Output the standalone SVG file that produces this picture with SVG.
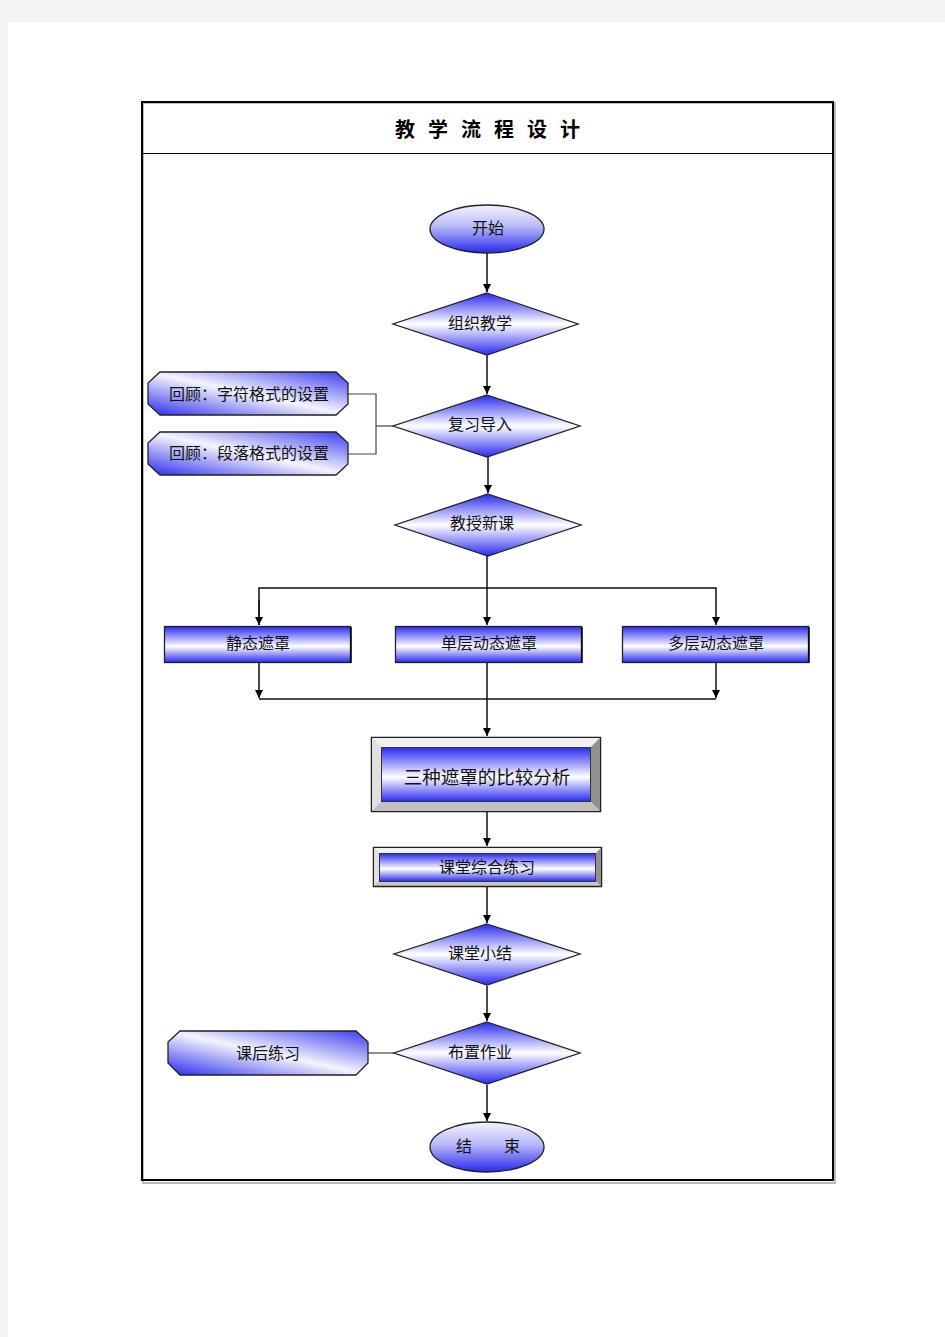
<svg xmlns="http://www.w3.org/2000/svg" width="945" height="1337" viewBox="0 0 945 1337">
<style>
.t{font-family:"Liberation Sans","Noto Sans CJK SC",sans-serif;font-size:16px;fill:#111;text-anchor:middle;dominant-baseline:central}
.sh{stroke:#222;stroke-width:1.3}
.ln{stroke:#111;stroke-width:1.5;fill:none}
.gl{stroke:#444;stroke-width:1.2;fill:none}
</style>
<defs>
<linearGradient id="gEll" x1="0" y1="0" x2="0" y2="1">
<stop offset="0" stop-color="#f4f4ff"/><stop offset="0.45" stop-color="#b8b8f8"/><stop offset="1" stop-color="#2828f0"/>
</linearGradient>
<linearGradient id="gDia" x1="0" y1="0" x2="0" y2="1">
<stop offset="0" stop-color="#2a2af0"/><stop offset="0.5" stop-color="#ffffff"/><stop offset="1" stop-color="#2a2af0"/>
</linearGradient>
<linearGradient id="gBox" x1="0" y1="0" x2="0" y2="1">
<stop offset="0" stop-color="#2a2af0"/><stop offset="0.55" stop-color="#ffffff"/><stop offset="1" stop-color="#2a2af0"/>
</linearGradient>
<linearGradient id="gOct" x1="0" y1="1" x2="1" y2="0">
<stop offset="0" stop-color="#2a2af0"/><stop offset="0.5" stop-color="#f4f4fc"/><stop offset="1" stop-color="#3a3af0"/>
</linearGradient>
<marker id="ar" viewBox="0 0 10 10" refX="10" refY="5" markerWidth="8" markerHeight="8" markerUnits="userSpaceOnUse" orient="auto">
<path d="M0,0 L10,5 L0,10 Z" fill="#000"/>
</marker>
</defs>
<rect width="945" height="1337" fill="#f3f3f3"/>
<rect x="8" y="22" width="937" height="1315" fill="#fff"/>
<rect x="143" y="103" width="692" height="1080" fill="none" stroke="#bbb" stroke-width="2"/>
<rect x="142" y="102" width="691" height="1078" fill="none" stroke="#000" stroke-width="2"/>
<line x1="142" y1="153.5" x2="833" y2="153.5" stroke="#000" stroke-width="1"/>
<text x="494" y="130" style="font-family:'Liberation Sans','Noto Sans CJK SC',sans-serif;font-size:20px;font-weight:bold;text-anchor:middle;dominant-baseline:central;letter-spacing:13px">教学流程设计</text>

<g id="connectors">
<line class="ln" x1="487" y1="253" x2="487" y2="292" marker-end="url(#ar)"/>
<line class="ln" x1="487" y1="355" x2="487" y2="394" marker-end="url(#ar)"/>
<line class="ln" x1="488" y1="457" x2="488" y2="493" marker-end="url(#ar)"/>
<polyline class="gl" points="348,394 376,394 376,454 348,454"/>
<line class="gl" x1="376" y1="426" x2="393" y2="426"/>
<line class="ln" x1="487" y1="556" x2="487" y2="625" marker-end="url(#ar)"/>
<polyline class="ln" points="259,625 259,588 716,588 716,625" marker-end="url(#ar)"/>
<line class="ln" x1="259" y1="600" x2="259" y2="625" marker-end="url(#ar)"/>
<line class="ln" x1="259" y1="663" x2="259" y2="698" marker-end="url(#ar)"/>
<line class="ln" x1="716" y1="663" x2="716" y2="698" marker-end="url(#ar)"/>
<line class="ln" x1="259" y1="699" x2="716" y2="699"/>
<line class="ln" x1="487" y1="663" x2="487" y2="736" marker-end="url(#ar)"/>
<line class="ln" x1="487" y1="812" x2="487" y2="846" marker-end="url(#ar)"/>
<line class="ln" x1="487" y1="887" x2="487" y2="923" marker-end="url(#ar)"/>
<line class="ln" x1="487" y1="986" x2="487" y2="1021" marker-end="url(#ar)"/>
<line class="gl" x1="368" y1="1053" x2="394" y2="1053"/>
<line class="ln" x1="487" y1="1085" x2="487" y2="1121" marker-end="url(#ar)"/>
</g>

<g id="start">
<ellipse cx="487" cy="229" rx="57" ry="24" fill="url(#gEll)" class="sh"/>
<text class="t" x="488" y="228">开始</text>
</g>
<g id="organize">
<polygon points="487,293 578,324 487,355 393,324" fill="url(#gDia)" class="sh"/>
<text class="t" x="480" y="323">组织教学</text>
</g>
<g id="review">
<polygon points="487,395 580,426 487,457 393,426" fill="url(#gDia)" class="sh"/>
<text class="t" x="480" y="424">复习导入</text>
</g>
<g id="review1">
<polygon points="160,372 336,372 348,383 348,404 336,415 160,415 148,404 148,383" fill="url(#gOct)" class="sh"/>
<text class="t" x="249" y="394">回顾：字符格式的设置</text>
</g>
<g id="review2">
<polygon points="160,432 336,432 348,443 348,464 336,475 160,475 148,464 148,443" fill="url(#gOct)" class="sh"/>
<text class="t" x="249" y="453">回顾：段落格式的设置</text>
</g>
<g id="teach">
<polygon points="488,494 581,525 488,556 395,525" fill="url(#gDia)" class="sh"/>
<text class="t" x="482" y="523">教授新课</text>
</g>
<g id="static">
<rect x="164.5" y="626.5" width="186" height="36" fill="url(#gBox)" class="sh"/>
<line x1="351" y1="627" x2="351" y2="663" stroke="#000" stroke-width="1.5"/>
<text class="t" x="258" y="643">静态遮罩</text>
</g>
<g id="single">
<rect x="395.5" y="626.5" width="186" height="36" fill="url(#gBox)" class="sh"/>
<line x1="582" y1="627" x2="582" y2="663" stroke="#000" stroke-width="1.5"/>
<text class="t" x="489" y="643">单层动态遮罩</text>
</g>
<g id="multi">
<rect x="622.5" y="626.5" width="186" height="36" fill="url(#gBox)" class="sh"/>
<line x1="809" y1="627" x2="809" y2="663" stroke="#000" stroke-width="1.5"/>
<text class="t" x="716" y="643">多层动态遮罩</text>
</g>
<g id="compare">
<rect x="371.5" y="737.5" width="229" height="74" fill="#c8c8c8" stroke="#222" stroke-width="1.5"/>
<polygon points="372,738 600,738 590,748 382,748" fill="#f0f0f0"/>
<polygon points="372,738 382,748 382,801 372,811" fill="#e0e0e0"/>
<polygon points="600,738 600,811 590,801 590,748" fill="#909090"/>
<polygon points="372,811 600,811 590,801 382,801" fill="#c0c0c0"/>
<rect x="381.5" y="747.5" width="209" height="54" fill="url(#gBox)" stroke="#333" stroke-width="1"/>
<text class="t" x="487" y="777" style="font-size:18.5px">三种遮罩的比较分析</text>
</g>
<g id="practice">
<rect x="373.5" y="847.5" width="228" height="39" fill="#c8c8c8" stroke="#222" stroke-width="1.5"/>
<polygon points="374,848 601,848 596,853 379,853" fill="#f0f0f0"/>
<polygon points="374,848 379,853 379,881 374,886" fill="#e0e0e0"/>
<polygon points="601,848 601,886 596,881 596,853" fill="#909090"/>
<rect x="379.5" y="853.5" width="216" height="28" fill="url(#gBox)" stroke="#333" stroke-width="1"/>
<text class="t" x="487" y="867">课堂综合练习</text>
</g>
<g id="summary">
<polygon points="487,924 580,954 487,985 394,954" fill="url(#gDia)" class="sh"/>
<text class="t" x="480" y="953">课堂小结</text>
</g>
<g id="homework">
<polygon points="487,1022 580,1053 487,1084 394,1053" fill="url(#gDia)" class="sh"/>
<text class="t" x="480" y="1052">布置作业</text>
</g>
<g id="after">
<polygon points="180,1031 356,1031 368,1042 368,1063 356,1075 180,1075 168,1063 168,1042" fill="url(#gOct)" class="sh"/>
<text class="t" x="268" y="1053">课后练习</text>
</g>
<g id="end">
<ellipse cx="487" cy="1147" rx="57" ry="25" fill="url(#gEll)" class="sh"/>
<text class="t" x="488" y="1146" xml:space="preserve">结　　束</text>
</g>
</svg>
